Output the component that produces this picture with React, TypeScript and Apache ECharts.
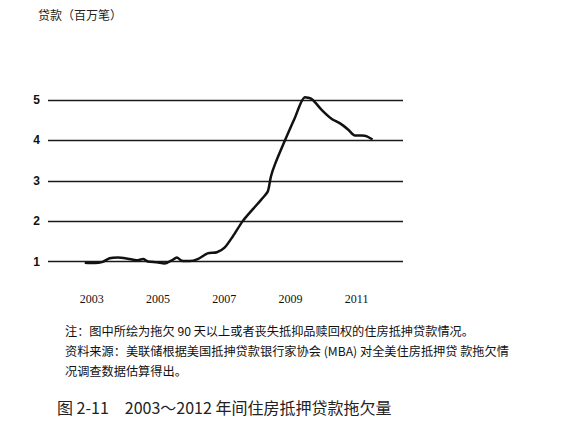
import React, { useEffect, useRef } from "react";
import * as echarts from "echarts";

const years = [
  2002.79, 2003.09, 2003.33, 2003.54, 2003.79, 2004.09, 2004.36, 2004.55, 2004.7, 2004.97,
  2005.2, 2005.42, 2005.57, 2005.72, 2005.96, 2006.2, 2006.5, 2006.78, 2007.02, 2007.26,
  2007.56, 2007.86, 2008.17, 2008.32, 2008.41, 2008.53, 2008.83, 2009.13, 2009.44, 2009.65,
  2009.95, 2010.25, 2010.5, 2010.74, 2010.95, 2011.16, 2011.31, 2011.48,
];
const delinquent = [
  0.97, 0.96, 0.99, 1.08, 1.1, 1.07, 1.03, 1.06, 1.0, 0.98,
  0.95, 1.03, 1.1, 1.02, 1.01, 1.06, 1.2, 1.23, 1.35, 1.62,
  2.0, 2.29, 2.58, 2.74, 3.1, 3.4, 3.99, 4.55, 5.07, 5.02,
  4.75, 4.53, 4.42, 4.27, 4.12, 4.12, 4.1, 4.02,
];
const yearLabels = [2003, 2005, 2007, 2009, 2011];
const yTicks = [1, 2, 3, 4, 5];

const unitTitle = "贷款（百万笔）";
const noteLines = [
  "注：图中所绘为拖欠 90 天以上或者丧失抵抑品赎回权的住房抵抻贷款情况。",
  "资料来源：美联储根据美国抵抻贷款银行家协会 (MBA) 对全美住房抵押贷 款拖欠情",
  "况调查数据估算得出。",
];
const caption = "图 2-11　2003～2012 年间住房抵押贷款拖欠量";

export default function App() {
  const ref = useRef<HTMLDivElement>(null);
  useEffect(() => {
    if (!ref.current) return;
    const chart = echarts.init(ref.current, undefined, { renderer: "svg" });
    const cjk = '"Noto Sans CJK SC", "Noto Sans", sans-serif';
    chart.setOption({
      animation: false,
      backgroundColor: "#ffffff",
      grid: { left: 48, right: 166, top: 100, bottom: 169.5 },
      xAxis: {
        type: "value",
        min: 2001.68,
        max: 2012.4,
        axisLine: { show: false },
        axisTick: { show: false },
        splitLine: { show: false },
        axisLabel: {
          customValues: yearLabels,
          margin: 31,
          fontFamily: '"Liberation Serif", serif',
          fontSize: 12,
          color: "#111",
          formatter: (v: number) => String(Math.round(v)),
        },
      },
      yAxis: {
        type: "value",
        min: yTicks[0],
        max: yTicks[yTicks.length - 1],
        interval: 1,
        axisLine: { show: false },
        axisTick: { show: false },
        axisLabel: {
          margin: 8,
          fontFamily: '"Liberation Sans", sans-serif',
          fontWeight: "bold",
          fontSize: 12,
          color: "#111",
        },
        splitLine: { lineStyle: { color: "#1a1a1a", width: 1.3 } },
      },
      series: [
        {
          type: "line",
          data: years.map((y, i) => [y, delinquent[i]]),
          showSymbol: false,
          smooth: 0.25,
          clip: false,
          lineStyle: { color: "#111", width: 2.5 },
        },
      ],
      graphic: [
        {
          type: "text",
          left: 38,
          top: 8,
          style: { text: unitTitle, font: `12px ${cjk}`, fill: "#222" },
        },
        ...noteLines.map((t, i) => ({
          type: "text",
          left: 65,
          top: 325 + i * 20,
          style: { text: t, font: `12.2px ${cjk}`, fill: "#111" },
        })),
        {
          type: "text",
          left: 57,
          top: 399,
          style: { text: caption, font: `16px ${cjk}`, fill: "#222" },
        },
      ],
    });
    return () => chart.dispose();
  }, []);
  return (
    <div
      ref={ref}
      style={{ position: "absolute", left: 0, top: 0, width: 569, height: 431, background: "#fff" }}
    />
  );
}
